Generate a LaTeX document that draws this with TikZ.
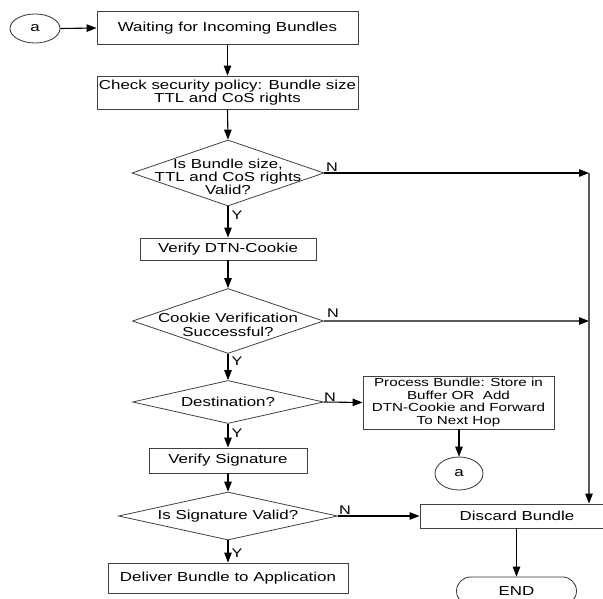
\documentclass[tikz,border=0pt]{standalone}
\usepackage{fontspec}
\setmainfont{Liberation Sans}[FakeStretch=1.3]
\usetikzlibrary{arrows.meta,shapes.geometric,shapes.misc}

\begin{document}
\begin{tikzpicture}[x=1pt,y=-1pt,
  txt/.style={font=\fontsize{13}{12}\selectfont},
  box/.style={txt,draw=black!75,line width=0.9pt,rectangle,inner sep=0pt,align=center},
  decision/.style={draw=black!75,line width=0.8pt,diamond,inner sep=0pt,aspect=1},
  dtext/.style={font=\fontsize{13}{13}\selectfont,align=center,inner sep=0pt},
  conn/.style={txt,draw=black!80,line width=0.8pt,ellipse,inner sep=0pt},
  endnode/.style={txt,draw=black!80,line width=0.8pt,rounded rectangle,inner sep=0pt},
  flow/.style={line width=1.1pt,-{Triangle[length=10pt,width=7.5pt,color=black]}},
  yn/.style={font=\fontsize{12.5}{12.5}\selectfont,inner sep=0pt}
]
\useasboundingbox (0,0) rectangle (603,599);

% connector circles
\node[conn,minimum width=50pt,minimum height=29pt] (a1) at (35,28.5) {a};
\node[conn,minimum width=48pt,minimum height=33pt] (a2) at (459,473.5) {a};

% process boxes
\node[box,minimum width=261pt,minimum height=33pt] (wait) at (227.5,28) {Waiting for Incoming Bundles};
\node[box,minimum width=261pt,minimum height=33pt,font=\fontsize{13}{11.8}\selectfont] (check) at (227.5,92.5)
  {Check security policy: Bundle size\\TTL and CoS rights};
\node[box,minimum width=176pt,minimum height=22pt] (cookie) at (228,249) {Verify DTN-Cookie};
\node[box,minimum width=191pt,minimum height=53pt,font=\fontsize{11.7}{12.4}\selectfont] (proc) at (458.5,402.5)
  {Process Bundle: Store in\\Buffer OR\ \ Add\\DTN-Cookie and Forward\\To Next Hop};
\node[box,minimum width=158pt,minimum height=25pt] (vsig) at (228,460.5) {Verify Signature};
\node[box,minimum width=240pt,minimum height=30pt] (deliver) at (228,578) {Deliver Bundle to Application};
\node[box,minimum width=194pt,minimum height=24pt] (discard) at (517,516) {Discard Bundle};
\node[endnode,minimum width=120pt,minimum height=28pt] (end) at (516.5,591) {END};

% decisions
\node[decision,minimum width=192pt,minimum height=66pt] (d1) at (228,173) {};
\node[dtext] (t1) at (228,177) {Is Bundle size,\\TTL and CoS rights\\Valid?};
\node[decision,minimum width=191pt,minimum height=65pt] (d2) at (228,321) {};
\node[dtext,font=\fontsize{13}{14}\selectfont] (t2) at (228,325) {Cookie Verification\\Successful?};
\node[decision,minimum width=191pt,minimum height=43pt] (d3) at (228,402) {};
\node[dtext] (t3) at (228,402) {Destination?};
\node[decision,minimum width=219pt,minimum height=48pt] (d4) at (228,516) {};
\node[dtext] (t4) at (228,516) {Is Signature Valid?};

% right-hand rail towards the discard box
\coordinate (r1) at (589,173);
\coordinate (r2) at (r1 |- d2.east);
\coordinate (r3) at (r1 |- discard.north);

% main flow
\draw[flow] (a1.east) -- (wait.west);
\draw[flow] (wait.south) -- (check.north);
\draw[flow] (check.south) -- (d1.north);
\draw[flow] (d1.south) -- (cookie.north);
\draw[flow] (cookie.south) -- (d2.north);
\draw[flow] (d2.south) -- (d3.north);
\draw[flow] (d3.south) -- (vsig.north);
\draw[flow] (vsig.south) -- (d4.north);
\draw[flow] (d4.south) -- (deliver.north);

% branches
\draw[flow] (d1.east) -- (r1);
\draw[flow,draw=black!65] (d2.east) -- (r2);
\draw[flow,draw=black!65] (r1) -- (r3);
\draw[flow] (d3.east) -- (proc.west);
\draw[flow] (proc.south -| a2.north) -- (a2.north);
\draw[flow] (d4.east) -- (discard.west);
\draw[flow] (discard.south -| end.north) -- (end.north);

% branch labels
\node[yn] (n1) at (332,167) {N};
\node[yn] (y1) at (237,215) {Y};
\node[yn] (n2) at (333,313) {N};
\node[yn] (y2) at (237,361) {Y};
\node[yn] (n3) at (330,397) {N};
\node[yn] (y3) at (237,433) {Y};
\node[yn] (n4) at (345,510) {N};
\node[yn] (y4) at (237,553) {Y};
\end{tikzpicture}
\end{document}
